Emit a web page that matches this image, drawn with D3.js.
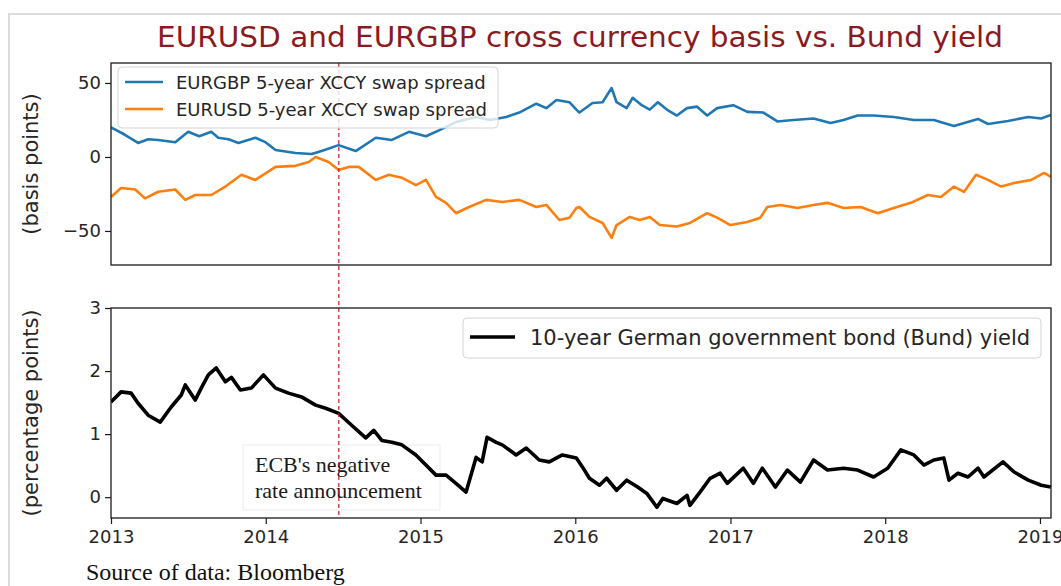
<!DOCTYPE html>
<html><head><meta charset="utf-8">
<script src="https://cdn.jsdelivr.net/npm/d3@7"></script>
<style>body{margin:0;background:#fff} svg{display:block}</style>
</head><body>
<svg id="c" width="1061" height="586"></svg>
<script>
// ---------- data ----------
const yearTicks = [2013, 2014, 2015, 2016, 2017, 2018, 2019];
const bpTicks = [-50, 0, 50];
const ppTicks = [0, 1, 2, 3];

// EURGBP 5-year XCCY swap spread (bp), decimal years
const gbpT = [2013.000,2013.090,2013.175,2013.240,2013.305,2013.415,2013.499,2013.570,2013.648,2013.693,2013.760,2013.823,2013.933,2013.998,2014.063,2014.192,2014.296,2014.361,2014.471,2014.581,2014.711,2014.815,2014.925,2015.035,2015.119,2015.229,2015.359,2015.450,2015.553,2015.638,2015.748,2015.813,2015.878,2015.962,2016.007,2016.027,2016.111,2016.176,2016.234,2016.266,2016.331,2016.370,2016.428,2016.480,2016.532,2016.590,2016.655,2016.720,2016.785,2016.850,2016.914,2017.018,2017.109,2017.213,2017.303,2017.407,2017.537,2017.647,2017.731,2017.822,2017.925,2018.055,2018.185,2018.314,2018.444,2018.600,2018.664,2018.794,2018.924,2019.008,2019.070];
const gbpV = [20,15,9.5,12,11.5,10,17,14,17,13,12,9.5,13,10,4.7,2.7,2,4,8,4,13,11.5,17,14,18,23.6,27,25,27,30,36,33,38.5,37,32,30,36.5,37,46.6,37,33,40,35,32,37,32,28,33,34,28,33,35,30.5,30,24,25,26,23,25,28,28,27,25,25,21,25.7,22.3,24.3,27,26,28.4];

// EURUSD 5-year XCCY swap spread (bp)
const usdT = [2013.000,2013.065,2013.156,2013.220,2013.305,2013.415,2013.480,2013.544,2013.648,2013.739,2013.843,2013.933,2014.063,2014.192,2014.277,2014.322,2014.406,2014.471,2014.536,2014.601,2014.711,2014.795,2014.879,2014.970,2015.035,2015.100,2015.165,2015.229,2015.314,2015.424,2015.528,2015.638,2015.748,2015.813,2015.897,2015.962,2016.007,2016.027,2016.091,2016.176,2016.234,2016.266,2016.351,2016.415,2016.480,2016.545,2016.655,2016.739,2016.850,2016.914,2016.999,2017.109,2017.193,2017.238,2017.323,2017.433,2017.537,2017.627,2017.731,2017.841,2017.951,2018.055,2018.165,2018.275,2018.360,2018.444,2018.509,2018.587,2018.664,2018.749,2018.833,2018.943,2019.027,2019.070];
const usdV = [-27,-21,-22,-28,-23.5,-22,-29,-25.7,-25.7,-20,-12,-15.5,-6.7,-6,-3.4,0,-3.4,-8.8,-6.7,-6.7,-15.5,-12,-14,-19,-15.5,-27,-31,-38,-33.8,-29,-30.4,-29,-33.8,-32.4,-42.6,-41,-34.5,-33.8,-40.5,-44.6,-54.7,-46,-40.5,-42.6,-40.5,-46,-47,-44.6,-38,-41,-46,-44,-41,-33.8,-32.4,-34.5,-32.4,-31,-34.5,-33.8,-38,-34.5,-31,-25.7,-27,-20,-23.6,-12,-15.5,-20,-17.6,-15.5,-10.8,-13.5];

// 10-year German government bond (Bund) yield (%)
const bundT = [2013.000,2013.065,2013.130,2013.175,2013.240,2013.318,2013.389,2013.454,2013.480,2013.544,2013.583,2013.629,2013.680,2013.739,2013.778,2013.836,2013.907,2013.985,2014.063,2014.147,2014.231,2014.322,2014.387,2014.471,2014.555,2014.646,2014.698,2014.750,2014.815,2014.879,2014.970,2015.035,2015.100,2015.165,2015.229,2015.294,2015.359,2015.398,2015.430,2015.489,2015.528,2015.618,2015.683,2015.767,2015.832,2015.916,2016.007,2016.046,2016.091,2016.156,2016.202,2016.266,2016.331,2016.402,2016.461,2016.526,2016.564,2016.655,2016.720,2016.739,2016.804,2016.869,2016.934,2016.979,2017.083,2017.148,2017.206,2017.290,2017.368,2017.452,2017.537,2017.627,2017.731,2017.822,2017.925,2018.016,2018.101,2018.185,2018.250,2018.314,2018.379,2018.412,2018.470,2018.535,2018.600,2018.638,2018.761,2018.833,2018.924,2019.008,2019.070];
const bundV = [1.51,1.67,1.65,1.49,1.30,1.19,1.43,1.62,1.78,1.54,1.73,1.94,2.05,1.83,1.90,1.70,1.73,1.94,1.73,1.65,1.59,1.46,1.41,1.33,1.14,0.94,1.06,0.90,0.87,0.83,0.67,0.51,0.35,0.35,0.22,0.08,0.63,0.56,0.95,0.87,0.83,0.67,0.78,0.59,0.56,0.67,0.62,0.48,0.30,0.19,0.30,0.11,0.27,0.16,0.06,-0.16,-0.02,-0.10,0.03,-0.13,0.08,0.30,0.38,0.22,0.46,0.22,0.46,0.16,0.43,0.24,0.59,0.43,0.46,0.43,0.32,0.46,0.75,0.67,0.51,0.59,0.62,0.27,0.38,0.32,0.46,0.32,0.56,0.40,0.27,0.19,0.16];

const eventYear = 2014.472;

const labels = {
  title: "EURUSD and EURGBP cross currency basis vs. Bund yield",
  gbp: "EURGBP 5-year XCCY swap spread",
  usd: "EURUSD 5-year XCCY swap spread",
  bund: "10-year German government bond (Bund) yield",
  y1: "(basis points)",
  y2: "(percentage points)",
  note: ["ECB's negative", "rate announcement"],
  source: "Source of data: Bloomberg"
};

// ---------- drawing ----------
function toDate(y) {
  const yr = Math.floor(y);
  const s = Date.UTC(yr, 0, 1), e = Date.UTC(yr + 1, 0, 1);
  return new Date(s + (y - yr) * (e - s));
}
const zip = (T, V) => T.map((t, i) => ({ d: toDate(t), v: V[i] }));

const svg = d3.select('#c');
const L = 111, R = 1051, T1 = 63, B1 = 265, T2 = 308, B2 = 518;
const sans = "'DejaVu Sans', sans-serif";
const serif = "'Liberation Serif', 'Times New Roman', serif";

const x = d3.scaleUtc().domain([new Date(Date.UTC(2013, 0, 1)), new Date(Date.UTC(2019, 0, 27))]).range([L, R]);
const y1 = d3.scaleLinear().domain([-73, 63.5]).range([B1, T1]);
const y2 = d3.scaleLinear().domain([-0.33, 3]).range([B2, T2]);

// outer light frame
svg.append('rect').attr('x', 9).attr('y', 14).attr('width', 1070).attr('height', 600)
  .attr('fill', 'none').attr('stroke', '#dcdcdc').attr('stroke-width', 2);

// title
svg.append('text').attr('x', 580).attr('y', 47).attr('text-anchor', 'middle')
  .attr('font-family', sans).attr('font-size', 29).attr('fill', '#8b1a1f')
  .attr('textLength', 846).attr('lengthAdjust', 'spacingAndGlyphs')
  .text(labels.title);

const defs = svg.append('defs');
defs.append('clipPath').attr('id', 'cp1').append('rect').attr('x', L).attr('y', T1).attr('width', R - L).attr('height', B1 - T1);
defs.append('clipPath').attr('id', 'cp2').append('rect').attr('x', L).attr('y', T2).attr('width', R - L).attr('height', B2 - T2);

// ---- top panel
const g1 = svg.append('g').attr('clip-path', 'url(#cp1)');
const line1 = d3.line().x(p => x(p.d)).y(p => y1(p.v));
g1.append('path').datum(zip(gbpT, gbpV)).attr('d', line1).attr('fill', 'none')
  .attr('stroke', '#1f77b4').attr('stroke-width', 2.6).attr('stroke-linejoin', 'round');
g1.append('path').datum(zip(usdT, usdV)).attr('d', line1).attr('fill', 'none')
  .attr('stroke', '#ff7f0e').attr('stroke-width', 2.6).attr('stroke-linejoin', 'round');

// ---- bottom panel
const g2 = svg.append('g');
// annotation box + text (under lines)
const ann = g2.append('g');
ann.append('rect').attr('x', 243).attr('y', 445).attr('width', 197).attr('height', 65)
  .attr('fill', 'none').attr('stroke', '#ececec').attr('stroke-width', 1);
labels.note.forEach((t, i) => {
  ann.append('text').attr('x', 255).attr('y', 472 + i * 26)
    .attr('font-family', serif).attr('font-size', 22).attr('fill', '#1a1a1a').text(t);
});
const line2 = d3.line().x(p => x(p.d)).y(p => y2(p.v));
g2.append('g').attr('clip-path', 'url(#cp2)').append('path').datum(zip(bundT, bundV)).attr('d', line2)
  .attr('fill', 'none').attr('stroke', '#000').attr('stroke-width', 3.6).attr('stroke-linejoin', 'round');

// event dashed line spanning both panels
const ex = x(toDate(eventYear));
svg.append('line').attr('x1', ex).attr('x2', ex).attr('y1', T1).attr('y2', B2)
  .attr('stroke', '#cc1f2a').attr('stroke-width', 1.2).attr('stroke-dasharray', '4,3');

// frames
[[T1, B1], [T2, B2]].forEach(([t, b]) => {
  svg.append('rect').attr('x', L).attr('y', t).attr('width', R - L).attr('height', b - t)
    .attr('fill', 'none').attr('stroke', '#1a1a1a').attr('stroke-width', 1.3);
});

// axes
function styleAxis(g) {
  g.select('.domain').remove();
  g.selectAll('.tick line').attr('stroke', '#1a1a1a').attr('stroke-width', 1.2);
  g.selectAll('.tick text').attr('font-family', sans).attr('font-size', 18).attr('fill', '#262626');
}
svg.append('g').attr('transform', `translate(${L},0)`)
  .call(d3.axisLeft(y1).tickValues(bpTicks).tickSize(6).tickPadding(4)).call(styleAxis);
svg.append('g').attr('transform', `translate(${L},0)`)
  .call(d3.axisLeft(y2).tickValues(ppTicks).tickSize(6).tickPadding(4).tickFormat(d3.format('d'))).call(styleAxis);
svg.append('g').attr('transform', `translate(0,${B2})`)
  .call(d3.axisBottom(x).tickValues(yearTicks.map(y => new Date(Date.UTC(y, 0, 1))))
    .tickFormat(d3.utcFormat('%Y')).tickSize(6).tickPadding(6)).call(styleAxis);

// y labels
[[labels.y1, (T1 + B1) / 2], [labels.y2, (T2 + B2) / 2]].forEach(([t, cy]) => {
  svg.append('text').attr('transform', `translate(31,${cy}) rotate(-90)`)
    .attr('text-anchor', 'middle').attr('dominant-baseline', 'central')
    .attr('font-family', sans).attr('font-size', 21).attr('fill', '#262626').text(t);
});

// top legend
const lg1 = svg.append('g');
lg1.append('rect').attr('x', 118).attr('y', 67).attr('width', 380).attr('height', 61).attr('rx', 4)
  .attr('fill', '#fff').attr('fill-opacity', 0.8).attr('stroke', '#d4d4d4');
[[labels.gbp, '#1f77b4', 82], [labels.usd, '#ff7f0e', 109]].forEach(([t, c, yy]) => {
  lg1.append('line').attr('x1', 125).attr('x2', 163).attr('y1', yy).attr('y2', yy)
    .attr('stroke', c).attr('stroke-width', 2.6);
  lg1.append('text').attr('x', 176).attr('y', yy + 6.5).attr('font-family', sans)
    .attr('font-size', 18).attr('fill', '#262626').text(t);
});

// bottom legend
const lg2 = svg.append('g');
lg2.append('rect').attr('x', 463).attr('y', 318).attr('width', 578).attr('height', 40).attr('rx', 4)
  .attr('fill', '#fff').attr('fill-opacity', 0.8).attr('stroke', '#d4d4d4');
lg2.append('line').attr('x1', 470).attr('x2', 515).attr('y1', 337).attr('y2', 337)
  .attr('stroke', '#000').attr('stroke-width', 3.6);
lg2.append('text').attr('x', 530).attr('y', 344.5).attr('font-family', sans)
  .attr('font-size', 21).attr('fill', '#262626').text(labels.bund);

// source
svg.append('text').attr('x', 86).attr('y', 580).attr('font-family', serif)
  .attr('font-size', 24).attr('fill', '#111').text(labels.source);
</script>
</body></html>
